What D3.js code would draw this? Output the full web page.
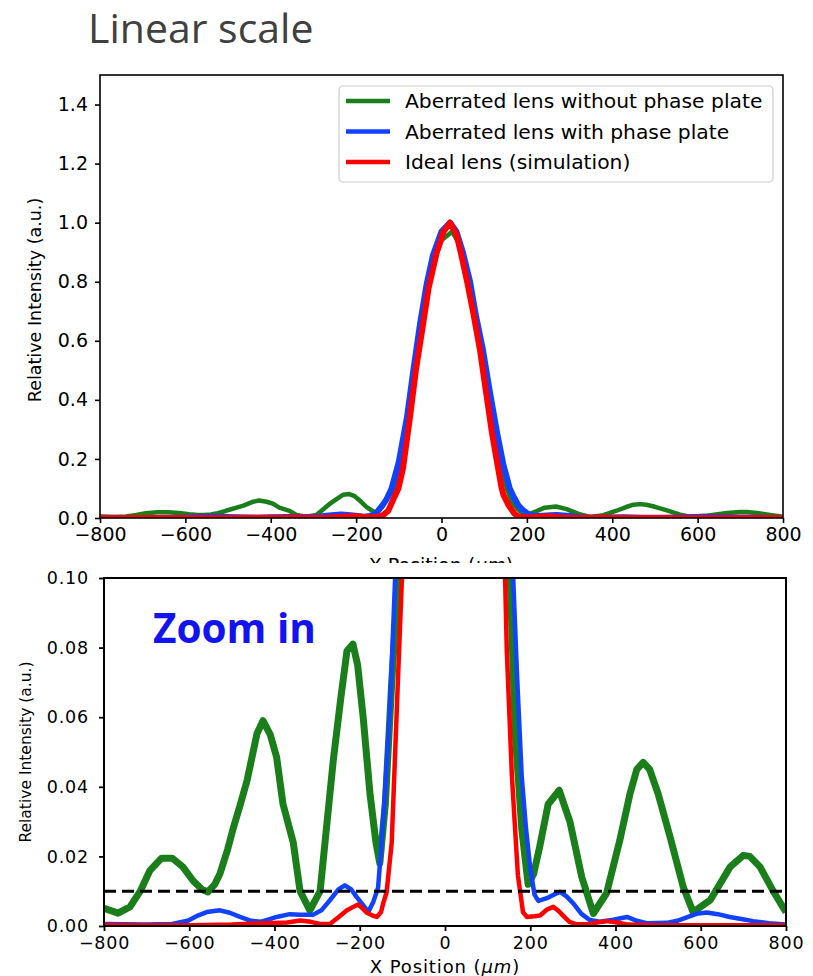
<html lang="en">
<head>
<meta charset="UTF-8">
<script src="https://d3js.org/d3.v7.min.js"></script>
<title>Linear scale</title>
<style>
  body { margin: 0; background: #fff; }
  text { font-family: "DejaVu Sans", sans-serif; fill: #000; }
</style>
<script>
// series: [x position (um), relative intensity]
var greenPts = [[-800,0.0051],[-767,0.0037],[-739,0.0055],[-715,0.010],[-692,0.016],[-665,0.0195],[-640,0.0195],
  [-615,0.017],[-591,0.013],[-570,0.0105],[-556,0.0098],[-540,0.012],[-528,0.015],[-510,0.022],[-497,0.028],
  [-480,0.035],[-464,0.042],[-441,0.0553],[-427,0.059],[-410,0.055],[-395,0.0485],[-380,0.035],[-356,0.024],
  [-340,0.010],[-317,0.0045],[-293,0.010],[-270,0.038],[-262,0.0477],[-245,0.065],[-230,0.079],[-216,0.081],
  [-205,0.075],[-192,0.060],[-176,0.038],[-162,0.024],[-153,0.018],[-140,0.035],[-125,0.07],[-110,0.1],
  [-100,0.16],[-78,0.34],[-60,0.55],[-45,0.68],[-25,0.84],[0,0.94],[25,0.97],[45,0.92],[64,0.8],[80,0.69],
  [94,0.57],[110,0.43],[124,0.29],[138,0.19],[153,0.1],[165,0.055],[180,0.028],[195,0.012],[208,0.015],
  [222,0.0227],[242,0.035],[268,0.039],[293,0.030],[321,0.014],[348,0.0036],[379,0.0094],[410,0.0246],
  [434,0.038],[450,0.045],[465,0.047],[480,0.045],[500,0.038],[528,0.0256],[559,0.0112],[582,0.004],
  [622,0.0074],[669,0.017],[700,0.0203],[715,0.02],[739,0.017],[770,0.010],[800,0.004]];

var bluePts = [[-800,0.0006],[-700,0.0004],[-640,0.0006],[-602,0.0016],[-580,0.003],[-559,0.004],[-528,0.0045],
  [-505,0.0038],[-481,0.0026],[-455,0.0015],[-434,0.0012],[-415,0.0018],[-395,0.0026],[-364,0.0034],[-340,0.0032],
  [-310,0.0032],[-290,0.0045],[-270,0.0074],[-250,0.0105],[-235,0.0117],[-220,0.0105],[-207,0.0083],[-192,0.006],
  [-180,0.004],[-168,0.007],[-157,0.011],[-150,0.022],[-140,0.04],[-129,0.0625],[-117,0.1],[-100,0.19],[-81,0.34],
  [-65,0.51],[-50,0.66],[-35,0.79],[-20,0.89],[0,0.97],[20,1.0],[35,0.97],[50,0.9],[67,0.8],[80,0.69],[97,0.57],
  [113,0.43],[130,0.29],[145,0.18],[160,0.1],[169,0.072],[180,0.043],[190,0.028],[200,0.0166],[210,0.009],
  [219,0.0072],[239,0.008],[255,0.009],[270,0.0098],[285,0.0085],[301,0.0065],[320,0.0035],[340,0.0017],
  [363,0.0012],[395,0.0018],[427,0.0026],[450,0.0015],[473,0.0008],[520,0.0009],[545,0.0015],[567,0.0025],
  [590,0.0035],[614,0.0039],[640,0.0034],[668,0.0026],[695,0.002],[723,0.0014],[760,0.0008],[800,0.0004]];

var redPts = [[-800,0.0003],[-700,0.0002],[-600,0.0002],[-500,0.0004],[-420,0.0008],[-370,0.001],[-340,0.0016],
  [-315,0.0012],[-293,0.0006],[-270,0.0006],[-250,0.0025],[-230,0.0045],[-215,0.0055],[-204,0.0062],[-193,0.005],
  [-183,0.0038],[-170,0.003],[-160,0.0026],[-150,0.004],[-145,0.0065],[-137,0.0097],[-125,0.024],[-110,0.072],
  [-101,0.1],[-90,0.17],[-74,0.34],[-60,0.5],[-46,0.63],[-30,0.78],[-11,0.9],[5,0.97],[20,1.0],[35,0.96],[45,0.9],
  [60,0.8],[75,0.69],[90,0.57],[104,0.43],[118,0.29],[130,0.19],[141,0.1],[145,0.079],[157,0.043],[171,0.0146],
  [183,0.004],[192,0.0026],[210,0.0028],[223,0.003],[240,0.0048],[254,0.0055],[265,0.0045],[277,0.003],
  [292,0.0012],[309,0.0005],[340,0.0006],[360,0.0011],[380,0.0014],[400,0.0011],[430,0.0004],[500,0.0002],
  [600,0.0002],[800,0.0002]];

var seriesNames = ["Aberrated lens without phase plate", "Aberrated lens with phase plate", "Ideal lens (simulation)"];
var seriesColors = ["#1a7f1a", "#1142ff", "#ff0000"];
var xTicks = [-800, -600, -400, -200, 0, 200, 400, 600, 800];
var topYTicks = [0, 0.2, 0.4, 0.6, 0.8, 1.0, 1.2, 1.4];
var botYTicks = [0, 0.02, 0.04, 0.06, 0.08, 0.10];
var threshold = 0.01;

function main(){
  var svg = d3.select("svg");
  var allSeries = [greenPts, bluePts, redPts];

  svg.append("text").attr("x", 88).attr("y", 43)
     .style("font-family", "'Open Sans', sans-serif").style("font-size", "41px").style("fill", "#404040")
     .text("Linear scale");

  // ---------- top chart ----------
  var tx = d3.scaleLinear().domain([-800, 800]).range([100, 783]);
  var ty = d3.scaleLinear().domain([0, 1.5]).range([518, 75]);
  var top = svg.append("g");

  top.append("clipPath").attr("id", "clipTop").append("rect")
     .attr("x", 100).attr("y", 75).attr("width", 683).attr("height", 443);

  var topLine = d3.line().x(function(d){return tx(d[0]);}).y(function(d){return ty(d[1]);});
  var topWidths = [4.5, 6, 6];
  top.append("g").attr("clip-path", "url(#clipTop)")
     .selectAll("path").data(allSeries).enter().append("path")
     .attr("d", topLine).attr("fill", "none")
     .attr("stroke", function(d, i){return seriesColors[i];})
     .attr("stroke-width", function(d, i){return topWidths[i];}).attr("stroke-linejoin", "round");

  var gx = top.append("g").attr("transform", "translate(0,518)")
     .call(d3.axisBottom(tx).tickValues(xTicks).tickSize(5).tickPadding(5));
  var gy = top.append("g").attr("transform", "translate(100,0)")
     .call(d3.axisLeft(ty).tickValues(topYTicks).tickFormat(d3.format(".1f")).tickSize(5).tickPadding(7));
  [gx, gy].forEach(function(g){
    g.select(".domain").remove();
    g.selectAll("line").attr("stroke", "#000").attr("stroke-width", 1.6);
    g.selectAll("text").style("font-size", "19px").style("font-family", "'DejaVu Sans', sans-serif").attr("fill", "#000");
  });
  top.append("rect").attr("x", 100).attr("y", 75).attr("width", 683).attr("height", 443)
     .attr("fill", "none").attr("stroke", "#000").attr("stroke-width", 1.6);

  top.append("text").attr("transform", "translate(41,300) rotate(-90)")
     .attr("text-anchor", "middle").style("font-size", "17.5px")
     .text("Relative Intensity (a.u.)");
  var tl = top.append("text").attr("x", 441).attr("y", 572).attr("text-anchor", "middle").style("font-size", "19px");
  tl.append("tspan").text("X Position (");
  tl.append("tspan").style("font-style", "italic").text("μm");
  tl.append("tspan").text(")");

  // legend
  var leg = top.append("g");
  leg.append("rect").attr("x", 339).attr("y", 86).attr("width", 434).attr("height", 96).attr("rx", 4)
     .attr("fill", "#fff").attr("fill-opacity", 0.8).attr("stroke", "#cccccc").attr("stroke-width", 1.2);
  seriesNames.forEach(function(name, i){
    var y = 101 + i * 30.5;
    leg.append("line").attr("x1", 346).attr("x2", 390).attr("y1", y).attr("y2", y)
       .attr("stroke", seriesColors[i]).attr("stroke-width", 4.5);
    leg.append("text").attr("x", 405).attr("y", y + 7).style("font-size", "20.3px").text(name);
  });

  // ---------- bottom chart (zoom) ----------
  var bx = d3.scaleLinear().domain([-800, 800]).range([104, 786]);
  var by = d3.scaleLinear().domain([0, 0.1]).range([926, 578]);
  var bot = svg.append("g");
  bot.append("rect").attr("x", 0).attr("y", 563).attr("width", 813).attr("height", 413).attr("fill", "#fff");

  bot.append("clipPath").attr("id", "clipBot").append("rect")
     .attr("x", 104).attr("y", 578).attr("width", 682).attr("height", 348);

  var botLine = d3.line().x(function(d){return bx(d[0]);}).y(function(d){return by(d[1]);});
  var widths = [7, 4.5, 4.5];
  bot.append("g").attr("clip-path", "url(#clipBot)")
     .selectAll("path").data(allSeries).enter().append("path")
     .attr("d", botLine).attr("fill", "none")
     .attr("stroke", function(d, i){return seriesColors[i];})
     .attr("stroke-width", function(d, i){return widths[i];}).attr("stroke-linejoin", "round");

  bot.append("line").attr("x1", bx(-800)).attr("x2", bx(800)).attr("y1", by(threshold)).attr("y2", by(threshold))
     .attr("stroke", "#000").attr("stroke-width", 3).attr("stroke-dasharray", "12,6");

  var bgx = bot.append("g").attr("transform", "translate(0,926)")
     .call(d3.axisBottom(bx).tickValues(xTicks).tickSize(5).tickPadding(6));
  var bgy = bot.append("g").attr("transform", "translate(104,0)")
     .call(d3.axisLeft(by).tickValues(botYTicks).tickFormat(d3.format(".2f")).tickSize(5).tickPadding(10));
  [bgx, bgy].forEach(function(g){
    g.select(".domain").remove();
    g.selectAll("line").attr("stroke", "#000").attr("stroke-width", 1.8);
    g.selectAll("text").style("font-size", "17.5px").style("letter-spacing", "0.8px")
     .style("font-family", "'DejaVu Sans', sans-serif").attr("fill", "#000");
  });
  bot.append("rect").attr("x", 104).attr("y", 578).attr("width", 682).attr("height", 348)
     .attr("fill", "none").attr("stroke", "#000").attr("stroke-width", 2);

  bot.append("text").attr("transform", "translate(31,752) rotate(-90)")
     .attr("text-anchor", "middle").style("font-size", "15.5px")
     .text("Relative Intensity (a.u.)");
  var bl = bot.append("text").attr("x", 445).attr("y", 973).attr("text-anchor", "middle")
     .style("font-size", "18px").style("letter-spacing", "0.9px");
  bl.append("tspan").text("X Position (");
  bl.append("tspan").style("font-style", "italic").text("μm");
  bl.append("tspan").text(")");

  bot.append("text").attr("x", 153).attr("y", 643)
     .style("font-family", "'Open Sans', sans-serif").style("font-weight", "bold").style("font-size", "40.5px")
     .style("fill", "#1212f2").text("Zoom in");
}
</script>
</head>
<body onload="main();">
<svg width="813" height="976"></svg>
</body>
</html>
